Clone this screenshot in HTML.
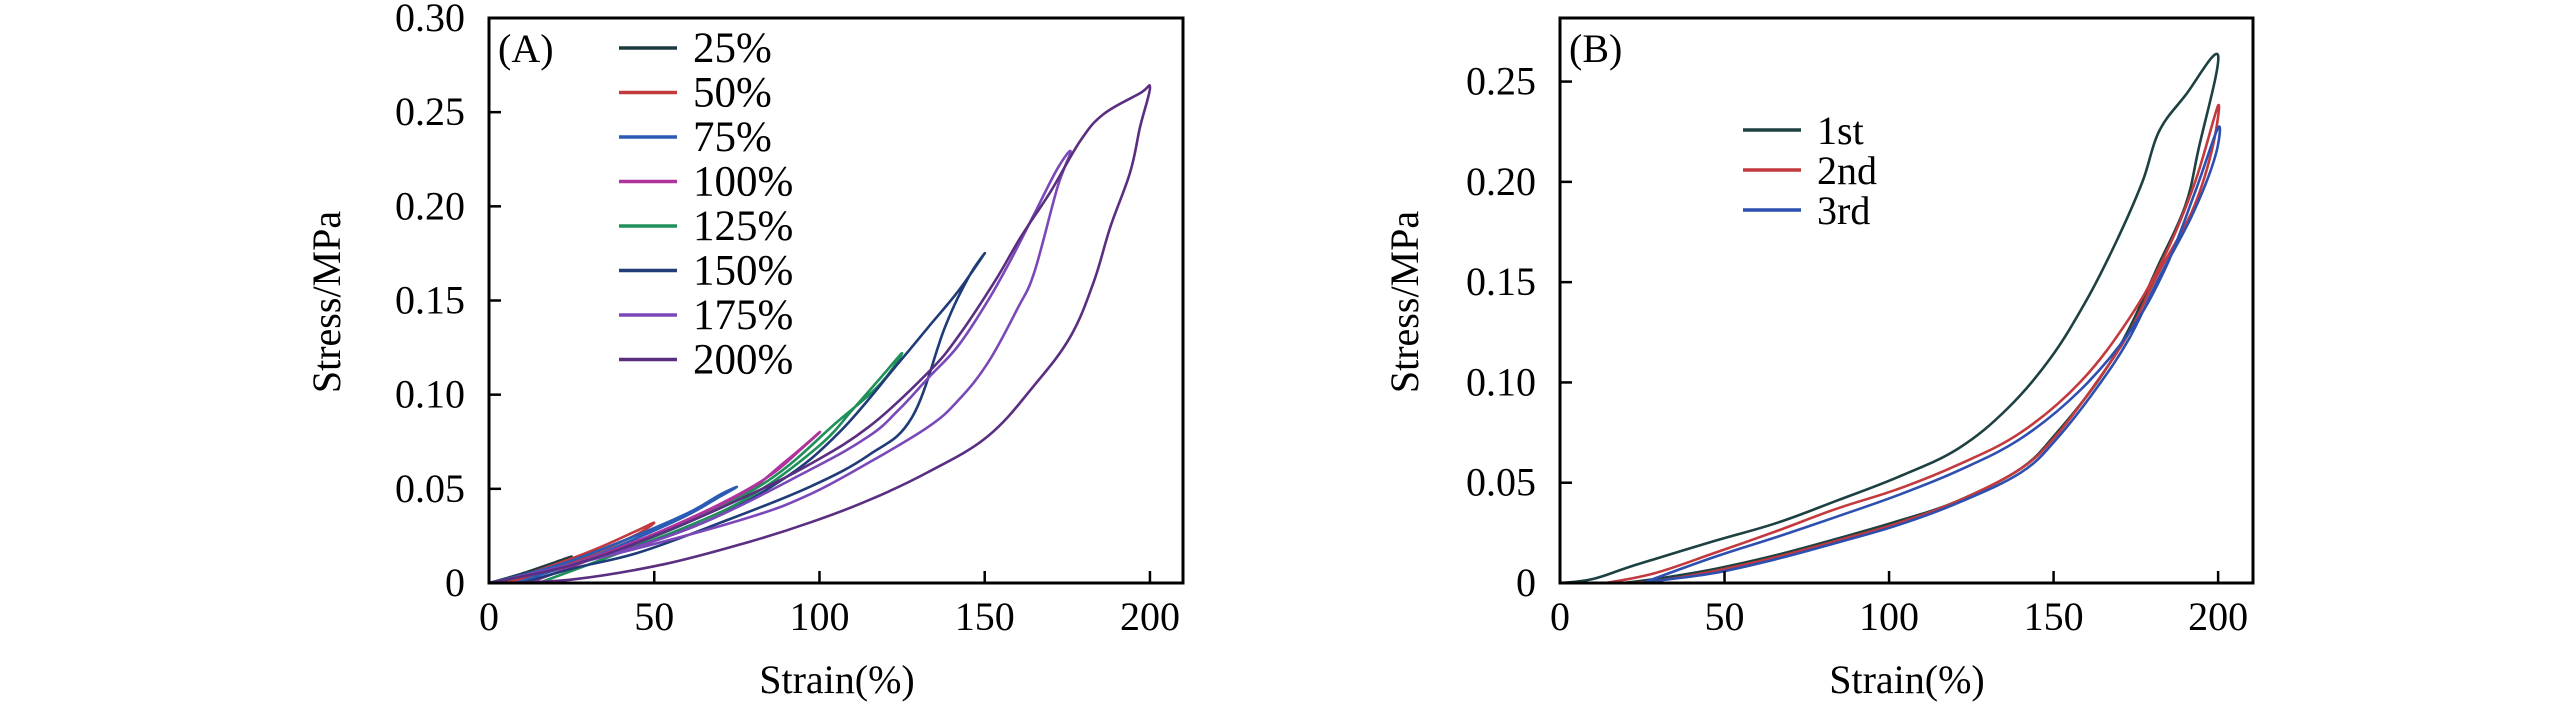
<!DOCTYPE html>
<html><head><meta charset="utf-8"><style>
html,body{margin:0;padding:0;background:#fff;}
svg{display:block;font-family:"Liberation Serif",serif;}
</style></head><body>
<svg id="chart" width="2567" height="709" viewBox="0 0 2567 709" xmlns="http://www.w3.org/2000/svg">
<g id="panelA"></g>
<g id="panelB"></g>
</svg>
<script>
// ---- Panel A data ----
const aNames = ["25%","50%","75%","100%","125%","150%","175%","200%"];
const aColors = ["#1d3a40","#c23a3e","#2a5bb5","#b0329c","#20905a","#1f3c78","#7a48b8","#5a2e80"];
const aStrain = [
 [0,10,20,25,20,10,3],
 [0,10,25,35,45,50,45,35,25,15,5],
 [0,20,40,60,70,75,70,60,45,30,15,8],
 [0,25,50,75,90,100,95,85,70,50,30,12],
 [0,30,60,85,105,118,125,118,110,100,80,60,35,15],
 [0,26,62,88,106,124,133,142,150,145,138,128,115,97,70,45,26,10],
 [0,26,62,97,115,124,133,142,151,158,165,172,176,172,165,160,151,142,133,115,97,79,44,8],
 [0,26,53,79,97,115,133,142,153,161,170,179,186,197,200,197,194,188,183,176,165,151,133,115,97,79,53,26,5]
];
const aStress = [
 [0,0.005,0.011,0.014,0.010,0.004,0],
 [0,0.004,0.013,0.020,0.028,0.032,0.026,0.018,0.011,0.005,0],
 [0,0.009,0.022,0.037,0.047,0.051,0.046,0.036,0.024,0.013,0.004,0],
 [0,0.010,0.026,0.045,0.065,0.080,0.072,0.057,0.042,0.026,0.012,0],
 [0,0.012,0.032,0.055,0.085,0.105,0.122,0.108,0.092,0.073,0.047,0.030,0.013,0],
 [0,0.010,0.030,0.054,0.080,0.117,0.136,0.155,0.175,0.162,0.136,0.088,0.068,0.051,0.032,0.016,0.008,0],
 [0,0.010,0.030,0.060,0.078,0.092,0.109,0.126,0.150,0.172,0.196,0.220,0.229,0.210,0.165,0.146,0.117,0.097,0.083,0.064,0.047,0.035,0.018,0.003],
 [0,0.010,0.027,0.047,0.063,0.083,0.112,0.131,0.160,0.184,0.208,0.235,0.249,0.260,0.263,0.242,0.218,0.189,0.160,0.131,0.105,0.078,0.059,0.044,0.032,0.022,0.010,0.002,0]
];
const aXTicks = [0,50,100,150,200];
const aYTicks = [0,0.05,0.10,0.15,0.20,0.25,0.30];
const aYLabels = ["0","0.05","0.10","0.15","0.20","0.25","0.30"];

// ---- Panel B data ----
const bNames = ["1st","2nd","3rd"];
const bColors = ["#1d4040","#c23a3e","#2d4fb0"];
const bStrain = [
 [0,10,23,47,66,84,103,121,136,149,160,169,177,182,190,200,194,190,182,173,164,151,140,121,103,84,66,47,29,19],
 [14,29,47,66,84,103,121,140,158,173,184,193,200,198,192,182,173,163,151,140,121,103,84,66,47,29,18],
 [25,47,66,84,103,121,140,158,173,184,193,200,199,192,182,173,163,151,140,121,103,84,66,47,29,26]
];
const bStress = [
 [0,0.002,0.009,0.021,0.030,0.041,0.053,0.067,0.087,0.112,0.141,0.170,0.200,0.225,0.243,0.263,0.216,0.188,0.159,0.127,0.102,0.075,0.057,0.041,0.031,0.022,0.014,0.007,0.002,0],
 [0,0.005,0.015,0.026,0.037,0.047,0.059,0.075,0.100,0.132,0.164,0.200,0.238,0.215,0.185,0.155,0.125,0.100,0.074,0.057,0.041,0.030,0.021,0.013,0.006,0.001,0],
 [0,0.013,0.023,0.033,0.044,0.056,0.072,0.096,0.125,0.157,0.195,0.227,0.212,0.183,0.152,0.122,0.097,0.072,0.055,0.040,0.029,0.020,0.012,0.005,0.001,0]
];
const bXTicks = [0,50,100,150,200];
const bYTicks = [0,0.05,0.10,0.15,0.20,0.25];
const bYLabels = ["0","0.05","0.10","0.15","0.20","0.25"];

const NS="http://www.w3.org/2000/svg";
function mk(parent,tag,attrs,text){const e=document.createElementNS(NS,tag);for(const k in attrs)e.setAttribute(k,attrs[k]);if(text!==undefined)e.textContent=text;parent.appendChild(e);return e;}

function smoothPath(pts){
  let d="M"+pts[0][0].toFixed(1)+","+pts[0][1].toFixed(1);
  for(let i=0;i<pts.length-1;i++){
    const p0=pts[Math.max(i-1,0)],p1=pts[i],p2=pts[i+1],p3=pts[Math.min(i+2,pts.length-1)];
    const t=0.18;
    const c1=[p1[0]+(p2[0]-p0[0])*t,p1[1]+(p2[1]-p0[1])*t];
    const c2=[p2[0]-(p3[0]-p1[0])*t,p2[1]-(p3[1]-p1[1])*t];
    d+=" C"+c1[0].toFixed(1)+","+c1[1].toFixed(1)+" "+c2[0].toFixed(1)+","+c2[1].toFixed(1)+" "+p2[0].toFixed(1)+","+p2[1].toFixed(1);
  }
  return d;
}

function drawPanel(g,cfg){
  const {L,R,T,B,xmax,ymax}=cfg;
  const sx=v=>L+(v/xmax)*(R-L);
  const sy=v=>B-(v/ymax)*(B-T);
  cfg.strain.forEach((xs,i)=>{
    const pts=xs.map((x,j)=>[sx(x),sy(cfg.stress[i][j])]);
    const p=mk(g,"path",{d:smoothPath(pts),fill:"none",stroke:cfg.colors[i],"stroke-width":2.6,"stroke-linejoin":"round"});
    
    
  });
  const fr=mk(g,"rect",{x:L,y:T,width:R-L,height:B-T,fill:"none",stroke:"#000","stroke-width":3});
  
  
  cfg.xticks.forEach(v=>{
    const x=sx(v);
    const t=mk(g,"line",{x1:x,y1:B,x2:x,y2:B-12,stroke:"#000","stroke-width":2.5});
    
    
    const lb=mk(g,"text",{x:x,y:B+47,"text-anchor":"middle","font-size":40},String(v));
    
    
  });
  cfg.yticks.forEach((v,i)=>{
    const y=sy(v);
    const t=mk(g,"line",{x1:L,y1:y,x2:L+12,y2:y,stroke:"#000","stroke-width":2.5});
    
    
    const lb=mk(g,"text",{x:L-24,y:y+13,"text-anchor":"end","font-size":40},cfg.ylabels[i]);
    
    
  });
  const xt=mk(g,"text",{x:cfg.xtx,y:693,"text-anchor":"middle","font-size":40},"Strain(%)");
  
  
  const yt=mk(g,"text",{x:0,y:0,"text-anchor":"middle","font-size":40,transform:"translate("+(cfg.ytx)+",302) rotate(-90)"},"Stress/MPa");
  
  
  const pl=mk(g,"text",{x:L+9,y:62,"font-size":40},cfg.label);
  
  
  cfg.names.forEach((n,i)=>{
    const y=cfg.legY0+i*cfg.legDy;
    const ln=mk(g,"line",{x1:cfg.legX,y1:y,x2:cfg.legX+58,y2:y,stroke:cfg.colors[i],"stroke-width":3.5});
    
    
    const tx=mk(g,"text",{x:cfg.legX+74,y:y+14,"font-size":cfg.legFont},n);
    
    
  });
}
drawPanel(document.getElementById('panelA'),{L:489,R:1183,T:18,B:583,xmax:210,ymax:0.30,
  strain:aStrain,stress:aStress,colors:aColors,names:aNames,xticks:aXTicks,yticks:aYTicks,ylabels:aYLabels,
  xtx:837,ytx:340,label:"(A)",legX:619,legY0:48,legDy:44.5,legFont:43});
drawPanel(document.getElementById('panelB'),{L:1560,R:2253,T:18,B:583,xmax:210.6,ymax:0.2817,
  strain:bStrain,stress:bStress,colors:bColors,names:bNames,xticks:bXTicks,yticks:bYTicks,ylabels:bYLabels,
  xtx:1907,ytx:1418,label:"(B)",legX:1743,legY0:130,legDy:40,legFont:40});
</script>
</body></html>
